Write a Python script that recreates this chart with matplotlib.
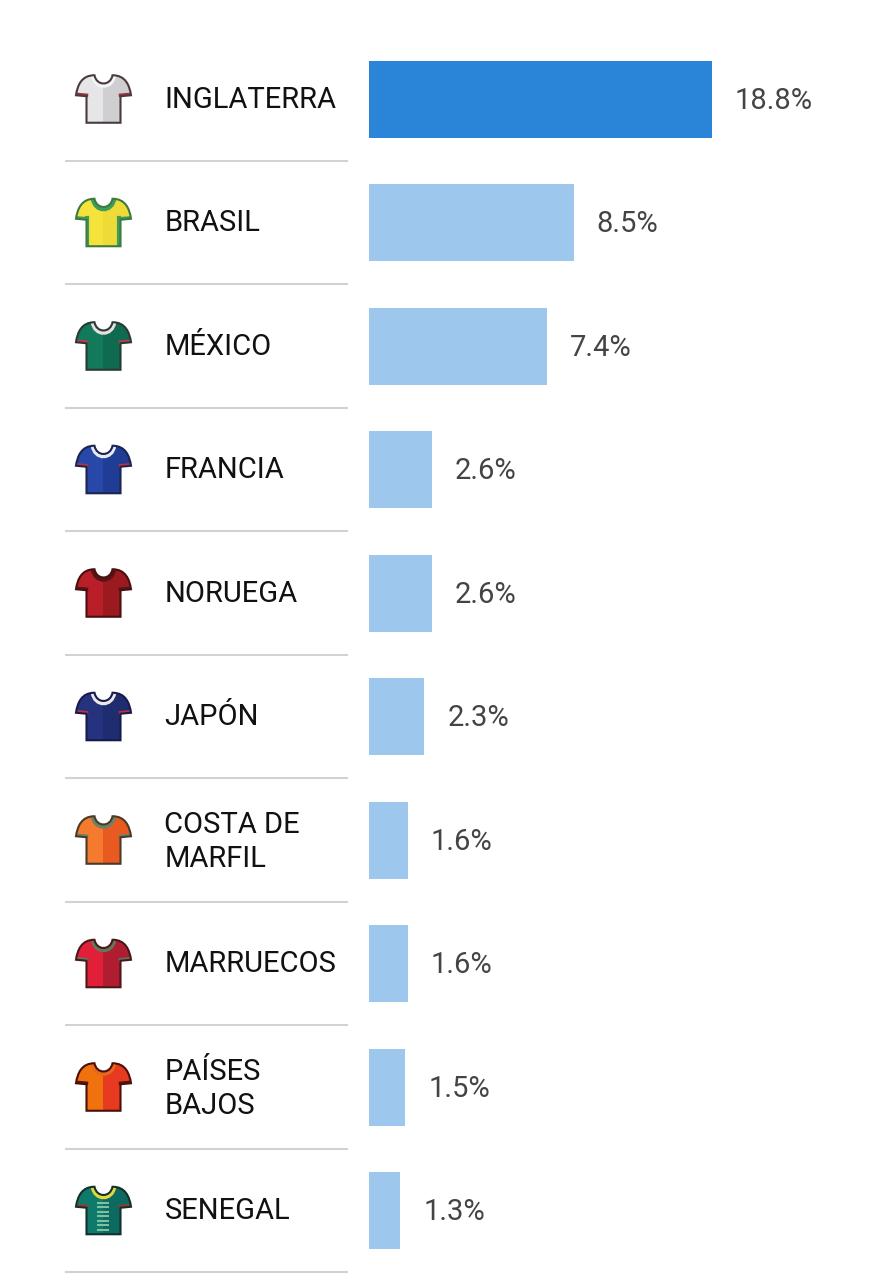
import matplotlib
matplotlib.use("Agg")
import matplotlib.pyplot as plt
from matplotlib.path import Path
from matplotlib.patches import PathPatch, Rectangle

plt.rcParams['font.family'] = ['Roboto', 'DejaVu Sans']

# Data
countries = ['INGLATERRA', 'BRASIL', 'MÉXICO', 'FRANCIA', 'NORUEGA', 'JAPÓN',
             'COSTA DE\nMARFIL', 'MARRUECOS', 'PAÍSES\nBAJOS', 'SENEGAL']
values = [18.8, 8.5, 7.4, 2.6, 2.6, 2.3, 1.6, 1.6, 1.5, 1.3]
labels = ['18.8%', '8.5%', '7.4%', '2.6%', '2.6%', '2.3%', '1.6%', '1.6%', '1.5%', '1.3%']

# shirt colours: left half, right half, trim, outline
shirt_left = ['#e6e6e8', '#f5e33c', '#12795a', '#2748a8', '#b81f28', '#25337f',
              '#f47a2e', '#e21f38', '#f0720f', '#0f7a6c']
shirt_right = ['#cfcfd2', '#efdb38', '#0f6a50', '#1f3d94', '#9a1a20', '#1f2c70',
               '#e85a20', '#b01c30', '#e73a20', '#0d6a60']
shirt_trim = ['#f4f4f4', '#3f9c5a', '#e8e0e0', '#e8e8f0', '#5a1414', '#f0e8e8',
              '#6f8064', '#5f7a5a', '#e8681c', '#e6d83c']
sleeve_trim = ['#a03040', '#3f9c5a', '#c8384a', '#c03040', '#5a1414', '#c03040',
               '#6f8064', '#5f7a5a', '#5a1408', '#b03028']
shirt_edge = ['#4a3a40', '#3d7a40', '#2a3a30', '#1c2450', '#4a1010', '#141c4c',
              '#4a3a2a', '#4a1818', '#4a1008', '#12302c']

W, H = 886, 1280
fig = plt.figure(figsize=(W / 100, H / 100), dpi=100, facecolor='white')

# full figure axes in pixels, for names, rules and shirts
bg = fig.add_axes([0, 0, 1, 1])
bg.set_xlim(0, W)
bg.set_ylim(H, 0)
bg.axis('off')

# bars: the long one runs past the scale and gets cut at the axes edge
row_h = 123.5
top = 37.5
n = len(values)
x_max = 14.23
ax = fig.add_axes([369 / W, 1 - (top + n * row_h) / H, 343 / W, n * row_h / H])
ax.set_xlim(0, x_max)
ax.set_ylim(n - 0.5, -0.5)
ax.axis('off')

colors = ['#2a85d8'] + ['#9dc7ec'] * (n - 1)
ax.barh(range(n), values, height=77 / row_h, color=colors)


def shirt_path(cx, cy):
    v = [(-9, -24), (-22, -24), (-26, -14), (-27.5, -4), (-17, -3), (-17, 23.5),
         (17, 23.5), (17, -3), (27.5, -4), (26, -14), (22, -24), (9, -24),
         (7, -13), (-7, -13), (-9, -24), (-9, -24)]
    c = [Path.MOVETO, Path.CURVE4, Path.CURVE4, Path.CURVE4, Path.LINETO, Path.LINETO,
         Path.LINETO, Path.LINETO, Path.LINETO, Path.CURVE4, Path.CURVE4, Path.CURVE4,
         Path.CURVE4, Path.CURVE4, Path.CURVE4, Path.CLOSEPOLY]
    return Path([(cx + x, cy + y) for x, y in v], c)


def draw_shirt(cx, cy, i):
    path = shirt_path(cx, cy)
    base = PathPatch(path, facecolor=shirt_left[i], edgecolor='none', zorder=2)
    bg.add_patch(base)
    right = Rectangle((cx, cy - 30), 32, 60, facecolor=shirt_right[i], edgecolor='none', zorder=3)
    bg.add_patch(right)
    right.set_clip_path(base)
    # collar band
    collar = PathPatch(Path([(cx - 10, cy - 24), (cx - 8, cy - 11), (cx + 8, cy - 11), (cx + 10, cy - 24)],
                            [Path.MOVETO, Path.CURVE4, Path.CURVE4, Path.CURVE4]),
                       facecolor='none', edgecolor=shirt_trim[i], lw=4, zorder=4)
    bg.add_patch(collar)
    collar.set_clip_path(base)
    # sleeve ends
    for side in (-1, 1):
        cuff = bg.plot([cx + side * 28, cx + side * 17], [cy - 5, cy - 4], color=sleeve_trim[i], lw=2.5, zorder=4)[0]
        cuff.set_clip_path(base)
    # brazil has green side panels
    if countries[i] == 'BRASIL':
        for side in (-1, 1):
            panel = bg.plot([cx + side * 16, cx + side * 16], [cy - 5, cy + 24], color=sleeve_trim[i], lw=3, zorder=4)[0]
            panel.set_clip_path(base)
    if countries[i] == 'SENEGAL':
        bg.plot([cx] * 7, [cy - 8 + 4.5 * k for k in range(7)], ls='none', marker='_', ms=8, mew=1.5,
                color='#7fc0a0', zorder=4)
    bg.add_patch(PathPatch(path, facecolor='none', edgecolor=shirt_edge[i], lw=1.5, zorder=5))


for i in range(n):
    cy = top + (i + 0.5) * row_h
    draw_shirt(103.5, cy, i)
    # two line names sit a little lower
    text_y = cy + 1.5 if '\n' in countries[i] else cy + 0.5
    bg.text(164.5, text_y, countries[i], fontsize=21, color='#111111', ha='left', va='center',
            linespacing=1.28)
    bg.plot([66, 347], [top + (i + 1) * row_h - 0.5] * 2, color='#d2d2d2', lw=1.5, zorder=1)
    # value sits a fixed distance after the visible end of the bar
    ax.annotate(labels[i], (min(values[i], x_max), i), xytext=(16.5, -1), textcoords='offset points',
                fontsize=21, color='#444444', ha='left', va='center', annotation_clip=False)

fig.savefig('out.png', dpi=100, facecolor='white')
